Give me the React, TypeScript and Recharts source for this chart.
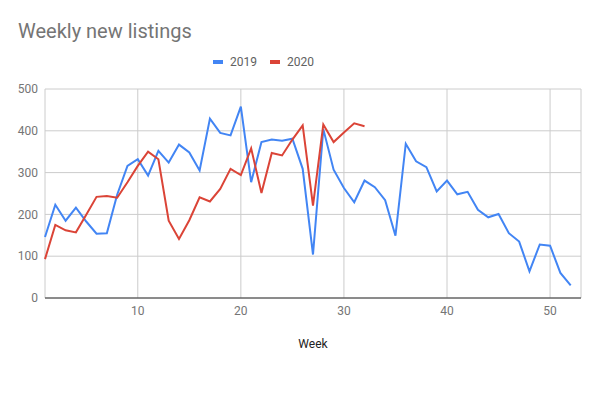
import { LineChart, Line, XAxis, YAxis, CartesianGrid } from 'recharts';

const weeks = Array.from({ length: 52 }, (_, i) => i + 1);

const listings2019 = [
  146, 223, 185, 216, 183, 154, 155, 247, 316, 332,
  293, 352, 324, 367, 348, 305, 429, 395, 389, 458,
  277, 373, 379, 376, 381, 309, 104, 404, 307, 263,
  229, 281, 265, 234, 149, 369, 327, 313, 255, 281,
  248, 254, 211, 193, 201, 155, 135, 64, 128, 125,
  60, 30,
];

const listings2020 = [
  93, 175, 162, 157, 199, 242, 244, 240, 277, 316,
  350, 332, 185, 141, 186, 241, 231, 261, 309, 294,
  358, 251, 347, 341, 379, 413, 221, 415, 373, 396,
  418, 411,
];

const xTicks = [10, 20, 30, 40, 50];
const yTicks = [0, 100, 200, 300, 400, 500];

const seriesInfo = [
  { key: 'y2019', label: '2019', color: '#4285f4' },
  { key: 'y2020', label: '2020', color: '#db4437' },
];

const FONT = 'Roboto, "Noto Sans", sans-serif';

export default function App() {
  const chartData = weeks.map((w, i) => ({
    week: w,
    y2019: listings2019[i],
    y2020: i < listings2020.length ? listings2020[i] : null,
  }));

  return (
    <div style={{ position: 'absolute', left: 0, top: 0, width: 600, height: 397, background: '#fff', fontFamily: FONT }}>
      <div style={{ position: 'absolute', left: 18, top: 19, fontSize: 20, color: '#757575' }}>Weekly new listings</div>
      <div style={{ position: 'absolute', top: 55, left: 213, display: 'flex', fontSize: 12, color: '#616161' }}>
        {seriesInfo.map((s, idx) => (
          <div key={s.key} style={{ display: 'flex', alignItems: 'center', marginLeft: idx ? 13 : 0 }}>
            <span style={{ display: 'inline-block', width: 10, height: 4, background: s.color, marginRight: 7 }} />
            <span>{s.label}</span>
          </div>
        ))}
      </div>
      <LineChart
        width={600}
        height={397}
        data={chartData}
        margin={{ top: 89, right: 19, bottom: 69, left: 0 }}
        style={{ position: 'absolute', left: 0, top: 0 }}
      >
        <CartesianGrid stroke="#cccccc" />
        <XAxis
          dataKey="week"
          type="number"
          domain={[1, 53]}
          ticks={xTicks}
          height={30}
          tickLine={false}
          axisLine={{ stroke: '#333333' }}
          tick={{ fill: '#757575', fontSize: 12, fontFamily: FONT }}
        />
        <YAxis
          domain={[0, 500]}
          ticks={yTicks}
          width={45}
          tickLine={false}
          axisLine={false}
          tickSize={7}
          tickMargin={0}
          tick={{ fill: '#757575', fontSize: 12, fontFamily: FONT }}
        />
        {seriesInfo.map((s) => (
          <Line
            key={s.key}
            type="linear"
            dataKey={s.key}
            stroke={s.color}
            strokeWidth={2}
            dot={false}
            isAnimationActive={false}
          />
        ))}
      </LineChart>
      <div style={{ position: 'absolute', left: 313, top: 337, transform: 'translateX(-50%)', fontSize: 12, color: '#222' }}>Week</div>
    </div>
  );
}
